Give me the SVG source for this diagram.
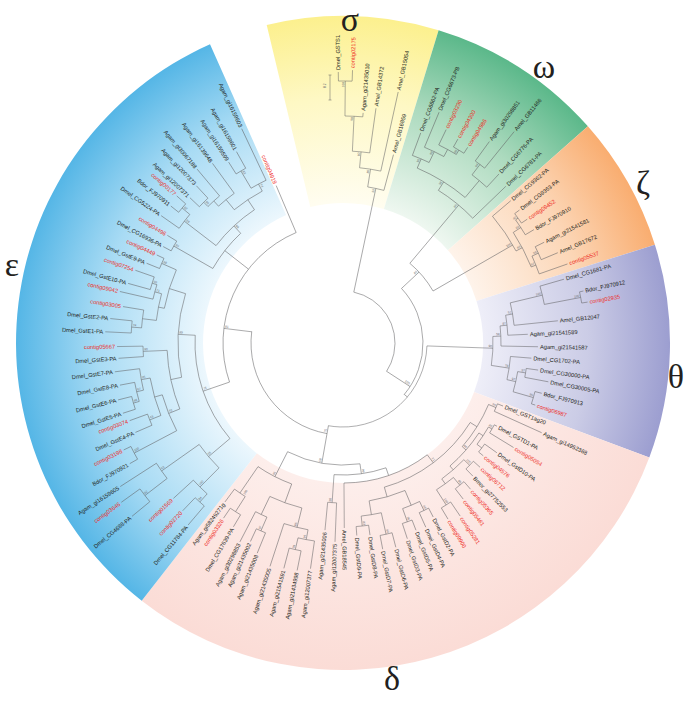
<svg xmlns="http://www.w3.org/2000/svg" width="686" height="701" viewBox="0 0 686 701">
<defs>
<style>
.b{fill:none;stroke:#606062;stroke-width:.5}
.t{font-family:"Liberation Sans",Arial,sans-serif;font-size:5.7px;fill:#231f20}
.r{fill:#ee2a24}
.e{text-anchor:end}
.n{font-family:"Liberation Sans",Arial,sans-serif;font-size:3.2px;fill:#6d6e71}
.gk{font-family:"Liberation Serif","DejaVu Serif",serif;font-size:34px;fill:#231f20;text-anchor:middle}
</style>
<radialGradient id="gS" gradientUnits="userSpaceOnUse" cx="343" cy="343" r="327"><stop offset="0.43" stop-color="#fffdf0"/><stop offset="0.75" stop-color="#fef8c4"/><stop offset="1" stop-color="#fcf08e"/></radialGradient>
<radialGradient id="gW" gradientUnits="userSpaceOnUse" cx="343" cy="343" r="327"><stop offset="0.43" stop-color="#eef7f0"/><stop offset="0.75" stop-color="#acdabe"/><stop offset="1" stop-color="#5bb88a"/></radialGradient>
<radialGradient id="gZ" gradientUnits="userSpaceOnUse" cx="343" cy="343" r="327"><stop offset="0.43" stop-color="#fef3ea"/><stop offset="0.75" stop-color="#fcd6b6"/><stop offset="1" stop-color="#f9ad70"/></radialGradient>
<radialGradient id="gT" gradientUnits="userSpaceOnUse" cx="343" cy="343" r="327"><stop offset="0.43" stop-color="#eeeef8"/><stop offset="0.75" stop-color="#cbcce6"/><stop offset="1" stop-color="#9c9ed0"/></radialGradient>
<radialGradient id="gD" gradientUnits="userSpaceOnUse" cx="343" cy="343" r="327"><stop offset="0.43" stop-color="#fdeeeb"/><stop offset="1" stop-color="#fbdcd6"/></radialGradient>
<radialGradient id="gE" gradientUnits="userSpaceOnUse" cx="343" cy="343" r="327"><stop offset="0.43" stop-color="#ecf7fd"/><stop offset="0.75" stop-color="#a8dbf4"/><stop offset="1" stop-color="#55b6e6"/></radialGradient>
</defs>
<rect width="686" height="701" fill="#ffffff"/>
<g id="sectors">
<path id="sec-sigma" fill="url(#gS)" d="M266.7 25A327 327 0 0 1 438.6 30.3L383.9 209.1A140 140 0 0 0 310.3 206.9Z"/>
<path id="sec-omega" fill="url(#gW)" d="M438.6 30.3A327 327 0 0 1 587.9 126.3L447.9 250.2A140 140 0 0 0 383.9 209.1Z"/>
<path id="sec-zeta" fill="url(#gZ)" d="M587.9 126.3A327 327 0 0 1 654.9 244.7L476.5 300.9A140 140 0 0 0 447.9 250.2Z"/>
<path id="sec-theta" fill="url(#gT)" d="M654.9 244.7A327 327 0 0 1 649.3 457.5L474.1 392A140 140 0 0 0 476.5 300.9Z"/>
<path id="sec-delta" fill="url(#gD)" d="M649.3 457.5A327 327 0 0 1 141.7 600.7L256.8 453.3A140 140 0 0 0 474.1 392Z"/>
<path id="sec-epsilon" fill="url(#gE)" d="M141.7 600.7A327 327 0 0 1 210 44.3L286.1 215.1A140 140 0 0 0 256.8 453.3Z"/>
</g>
<g id="clade-names">
<text id="lab-sigma" class="gk" x="350" y="31">σ</text>
<text id="lab-omega" class="gk" x="544" y="78">ω</text>
<text id="lab-zeta" class="gk" x="643" y="194">ζ</text>
<text id="lab-theta" class="gk" x="676" y="388">θ</text>
<text id="lab-delta" class="gk" x="392" y="690">δ</text>
<text id="lab-epsilon" class="gk" x="12" y="276">ε</text>
</g>
<g id="connectors" class="b" transform="translate(343,343)">
<circle r="52" stroke-dasharray="100.7 3000" transform="rotate(-78)"/>
<circle r="80" stroke-dasharray="115.9 3000" transform="rotate(-43)"/>
<circle r="104" stroke-dasharray="36.3 3000" transform="rotate(-50)"/>
<circle r="84" stroke-dasharray="143.7 3000" transform="rotate(2)"/>
<circle r="92" stroke-dasharray="139.7 3000" transform="rotate(100)"/>
<circle r="120" stroke-dasharray="180.1 3000" transform="rotate(161)"/>
<path d="M52 0H158" transform="rotate(-78)"/>
<path d="M52 0H80" transform="rotate(33)"/>
<path d="M80 0H104" transform="rotate(-43)"/>
<path d="M80 0H84" transform="rotate(40)"/>
<path d="M104 0H180" transform="rotate(-50)"/>
<path d="M104 0H196" transform="rotate(-30)"/>
<path d="M84 0H150" transform="rotate(2)"/>
<path d="M84 0H122" transform="rotate(100)"/>
<path d="M92 0H120" transform="rotate(187)"/>
<path d="M120 0H171" transform="rotate(247)"/>
<path d="M-13 -268V-243M-14.5 -268H-11.5M-14.5 -243H-11.5"/>
<circle r="158" stroke-dasharray="16.5 3000" transform="rotate(-81)"/>
<circle r="176" stroke-dasharray="21.5 3000" transform="rotate(-84.6)"/>
<circle r="192" stroke-dasharray="17.4 3000" transform="rotate(-87.2)"/>
<circle r="227" stroke-dasharray="17.8 3000" transform="rotate(-89.5)"/>
<circle r="262" stroke-dasharray="13.7 3000" transform="rotate(-91)"/>
<path d="M158 0H176" transform="rotate(-81)"/>
<path d="M176 0H192" transform="rotate(-84.6)"/>
<path d="M192 0H227" transform="rotate(-87.2)"/>
<path d="M227 0H262" transform="rotate(-89.5)"/>
<path d="M262 0H271" transform="rotate(-91)"/>
<path d="M262 0H273" transform="rotate(-88)"/>
<path d="M227 0H231" transform="rotate(-85)"/>
<path d="M192 0H237" transform="rotate(-82)"/>
<path d="M176 0H257" transform="rotate(-77.6)"/>
<path d="M158 0H195" transform="rotate(-75)"/>
<circle r="180" stroke-dasharray="44.3 3000" transform="rotate(-58)"/>
<circle r="190" stroke-dasharray="56.4 3000" transform="rotate(-67)"/>
<circle r="200" stroke-dasharray="18.2 3000" transform="rotate(-69.7)"/>
<circle r="212" stroke-dasharray="21.5 3000" transform="rotate(-67.4)"/>
<circle r="220" stroke-dasharray="20 3000" transform="rotate(-64.2)"/>
<circle r="225" stroke-dasharray="12.2 3000" transform="rotate(-60.6)"/>
<circle r="212" stroke-dasharray="19.2 3000" transform="rotate(-52.5)"/>
<circle r="225" stroke-dasharray="11.8 3000" transform="rotate(-54)"/>
<path d="M180 0H190" transform="rotate(-58)"/>
<path d="M190 0H200" transform="rotate(-67)"/>
<path d="M200 0H212" transform="rotate(-64.5)"/>
<path d="M212 0H220" transform="rotate(-61.6)"/>
<path d="M220 0H225" transform="rotate(-59)"/>
<path d="M190 0H212" transform="rotate(-50)"/>
<path d="M212 0H225" transform="rotate(-52.5)"/>
<path d="M200 0H224" transform="rotate(-69.7)"/>
<path d="M212 0H250" transform="rotate(-67.4)"/>
<path d="M220 0H237" transform="rotate(-64.2)"/>
<path d="M225 0H234" transform="rotate(-60.6)"/>
<path d="M225 0H232" transform="rotate(-57.5)"/>
<path d="M225 0H249" transform="rotate(-54)"/>
<path d="M225 0H272" transform="rotate(-51)"/>
<path d="M212 0H230" transform="rotate(-47.3)"/>
<path d="M180 0H226" transform="rotate(-43.9)"/>
<circle r="196" stroke-dasharray="42.1 3000" transform="rotate(-40.3)"/>
<circle r="203" stroke-dasharray="39 3000" transform="rotate(-33)"/>
<circle r="212" stroke-dasharray="17.8 3000" transform="rotate(-35.5)"/>
<circle r="215" stroke-dasharray="11.6 3000" transform="rotate(-37)"/>
<circle r="208" stroke-dasharray="19.2 3000" transform="rotate(-24.7)"/>
<circle r="215" stroke-dasharray="14.3 3000" transform="rotate(-26.6)"/>
<path d="M196 0H203" transform="rotate(-28)"/>
<path d="M203 0H212" transform="rotate(-33)"/>
<path d="M212 0H215" transform="rotate(-35.5)"/>
<path d="M203 0H208" transform="rotate(-22)"/>
<path d="M208 0H215" transform="rotate(-24.7)"/>
<path d="M196 0H220" transform="rotate(-40.3)"/>
<path d="M215 0H221" transform="rotate(-37)"/>
<path d="M215 0H222" transform="rotate(-33.9)"/>
<path d="M212 0H222" transform="rotate(-30.7)"/>
<path d="M215 0H225" transform="rotate(-26.6)"/>
<path d="M215 0H233" transform="rotate(-22.8)"/>
<path d="M208 0H238" transform="rotate(-19.4)"/>
<circle r="150" stroke-dasharray="29.1 3000" transform="rotate(-2.5)"/>
<circle r="158" stroke-dasharray="20.1 3000" transform="rotate(-6.2)"/>
<circle r="165" stroke-dasharray="20.2 3000" transform="rotate(-9.7)"/>
<circle r="172" stroke-dasharray="22.8 3000" transform="rotate(-13.5)"/>
<circle r="205" stroke-dasharray="18.8 3000" transform="rotate(-16.1)"/>
<circle r="242" stroke-dasharray="11.4 3000" transform="rotate(-12.2)"/>
<circle r="168" stroke-dasharray="23.5 3000" transform="rotate(4.6)"/>
<circle r="177" stroke-dasharray="20.7 3000" transform="rotate(9.3)"/>
<circle r="185" stroke-dasharray="9 3000" transform="rotate(7.9)"/>
<circle r="198" stroke-dasharray="12.8 3000" transform="rotate(14.2)"/>
<path d="M150 0H158" transform="rotate(-2.5)"/>
<path d="M158 0H165" transform="rotate(-6.2)"/>
<path d="M165 0H172" transform="rotate(-9.7)"/>
<path d="M172 0H205" transform="rotate(-13.5)"/>
<path d="M205 0H242" transform="rotate(-10.85)"/>
<path d="M150 0H168" transform="rotate(8.6)"/>
<path d="M168 0H177" transform="rotate(12.6)"/>
<path d="M177 0H185" transform="rotate(9.3)"/>
<path d="M177 0H198" transform="rotate(16)"/>
<path d="M205 0H230" transform="rotate(-16.1)"/>
<path d="M242 0H246" transform="rotate(-12.2)"/>
<path d="M242 0H248" transform="rotate(-9.5)"/>
<path d="M172 0H216" transform="rotate(-5.9)"/>
<path d="M165 0H185" transform="rotate(-2.7)"/>
<path d="M158 0H195" transform="rotate(1.1)"/>
<path d="M168 0H189" transform="rotate(4.6)"/>
<path d="M185 0H197" transform="rotate(7.9)"/>
<path d="M185 0H209" transform="rotate(10.7)"/>
<path d="M198 0H205" transform="rotate(14.2)"/>
<path d="M198 0H202" transform="rotate(17.9)"/>
<circle r="122" stroke-dasharray="74.5 3000" transform="rotate(82)"/>
<circle r="132" stroke-dasharray="52.8 3000" transform="rotate(71)"/>
<circle r="160" stroke-dasharray="8.9 3000" transform="rotate(92.3)"/>
<circle r="140" stroke-dasharray="89.4 3000" transform="rotate(53)"/>
<circle r="150" stroke-dasharray="110 3000" transform="rotate(32)"/>
<circle r="158" stroke-dasharray="49.9 3000" transform="rotate(22.9)"/>
<circle r="166" stroke-dasharray="8.1 3000" transform="rotate(21.5)"/>
<circle r="163" stroke-dasharray="44.1 3000" transform="rotate(33.5)"/>
<circle r="168" stroke-dasharray="20.8 3000" transform="rotate(30)"/>
<circle r="172" stroke-dasharray="9.3 3000" transform="rotate(28.4)"/>
<circle r="174" stroke-dasharray="10 3000" transform="rotate(35.5)"/>
<circle r="168" stroke-dasharray="29.3 3000" transform="rotate(44)"/>
<circle r="176" stroke-dasharray="10.8 3000" transform="rotate(42.2)"/>
<circle r="174" stroke-dasharray="21 3000" transform="rotate(50.6)"/>
<circle r="184" stroke-dasharray="11.2 3000" transform="rotate(48.9)"/>
<circle r="192" stroke-dasharray="11.1 3000" transform="rotate(55.9)"/>
<circle r="160" stroke-dasharray="37.4 3000" transform="rotate(67.2)"/>
<circle r="176" stroke-dasharray="18.4 3000" transform="rotate(64.2)"/>
<circle r="186" stroke-dasharray="10.4 3000" transform="rotate(62.6)"/>
<circle r="190" stroke-dasharray="10.3 3000" transform="rotate(68.7)"/>
<circle r="174" stroke-dasharray="20.3 3000" transform="rotate(77.3)"/>
<circle r="196" stroke-dasharray="12.3 3000" transform="rotate(75.5)"/>
<circle r="184" stroke-dasharray="12.5 3000" transform="rotate(82)"/>
<circle r="150" stroke-dasharray="38 3000" transform="rotate(110)"/>
<circle r="170" stroke-dasharray="34.1 3000" transform="rotate(104)"/>
<circle r="190" stroke-dasharray="24.9 3000" transform="rotate(100.6)"/>
<circle r="200" stroke-dasharray="16.8 3000" transform="rotate(98.2)"/>
<circle r="212" stroke-dasharray="12.2 3000" transform="rotate(101.4)"/>
<circle r="190" stroke-dasharray="12.6 3000" transform="rotate(113.6)"/>
<circle r="205" stroke-dasharray="10 3000" transform="rotate(112.2)"/>
<circle r="182" stroke-dasharray="13 3000" transform="rotate(122.5)"/>
<circle r="200" stroke-dasharray="12.2 3000" transform="rotate(120.8)"/>
<path d="M122 0H132" transform="rotate(82)"/>
<path d="M122 0H150" transform="rotate(117)"/>
<path d="M132 0H160" transform="rotate(93.9)"/>
<path d="M132 0H140" transform="rotate(71)"/>
<path d="M140 0H150" transform="rotate(53)"/>
<path d="M150 0H158" transform="rotate(32)"/>
<path d="M150 0H160" transform="rotate(74)"/>
<path d="M158 0H166" transform="rotate(22.9)"/>
<path d="M158 0H163" transform="rotate(41)"/>
<path d="M163 0H168" transform="rotate(33.5)"/>
<path d="M163 0H168" transform="rotate(49)"/>
<path d="M168 0H172" transform="rotate(30)"/>
<path d="M168 0H174" transform="rotate(37.1)"/>
<path d="M168 0H176" transform="rotate(44)"/>
<path d="M168 0H174" transform="rotate(54)"/>
<path d="M174 0H184" transform="rotate(50.6)"/>
<path d="M174 0H192" transform="rotate(57.5)"/>
<path d="M160 0H176" transform="rotate(67.2)"/>
<path d="M160 0H174" transform="rotate(80.6)"/>
<path d="M176 0H186" transform="rotate(64.2)"/>
<path d="M176 0H190" transform="rotate(70.2)"/>
<path d="M174 0H196" transform="rotate(77.3)"/>
<path d="M174 0H184" transform="rotate(84)"/>
<path d="M150 0H170" transform="rotate(110)"/>
<path d="M150 0H182" transform="rotate(124.5)"/>
<path d="M170 0H190" transform="rotate(104)"/>
<path d="M170 0H190" transform="rotate(115.5)"/>
<path d="M190 0H200" transform="rotate(100.6)"/>
<path d="M200 0H212" transform="rotate(103)"/>
<path d="M190 0H205" transform="rotate(113.6)"/>
<path d="M182 0H200" transform="rotate(122.5)"/>
<path d="M166 0H172" transform="rotate(21.5)"/>
<path d="M166 0H218" transform="rotate(24.3)"/>
<path d="M172 0H175" transform="rotate(28.4)"/>
<path d="M172 0H200" transform="rotate(31.5)"/>
<path d="M174 0H189" transform="rotate(35.5)"/>
<path d="M174 0H180" transform="rotate(38.8)"/>
<path d="M176 0H185" transform="rotate(42.2)"/>
<path d="M176 0H186" transform="rotate(45.7)"/>
<path d="M184 0H194" transform="rotate(48.9)"/>
<path d="M184 0H197" transform="rotate(52.4)"/>
<path d="M192 0H209" transform="rotate(55.9)"/>
<path d="M192 0H205" transform="rotate(59.2)"/>
<path d="M186 0H196" transform="rotate(62.6)"/>
<path d="M186 0H202" transform="rotate(65.8)"/>
<path d="M190 0H201" transform="rotate(68.7)"/>
<path d="M190 0H206" transform="rotate(71.8)"/>
<path d="M196 0H211" transform="rotate(75.5)"/>
<path d="M196 0H210" transform="rotate(79.1)"/>
<path d="M184 0H194" transform="rotate(82)"/>
<path d="M184 0H193" transform="rotate(85.9)"/>
<path d="M140 0H185" transform="rotate(89.6)"/>
<path d="M160 0H199" transform="rotate(92.3)"/>
<path d="M160 0H188" transform="rotate(95.5)"/>
<path d="M200 0H228" transform="rotate(98.2)"/>
<path d="M212 0H232" transform="rotate(101.4)"/>
<path d="M212 0H233" transform="rotate(104.7)"/>
<path d="M190 0H235" transform="rotate(108.1)"/>
<path d="M205 0H227" transform="rotate(112.2)"/>
<path d="M205 0H219" transform="rotate(115)"/>
<path d="M190 0H224" transform="rotate(117.4)"/>
<path d="M200 0H214" transform="rotate(120.8)"/>
<path d="M200 0H212" transform="rotate(124.3)"/>
<path d="M182 0H198" transform="rotate(126.6)"/>
<circle r="148" stroke-dasharray="111.6 3000" transform="rotate(139.8)"/>
<circle r="165" stroke-dasharray="84.7 3000" transform="rotate(168)"/>
<circle r="182" stroke-dasharray="40.3 3000" transform="rotate(191)"/>
<circle r="198" stroke-dasharray="11.1 3000" transform="rotate(202.1)"/>
<circle r="188" stroke-dasharray="27.2 3000" transform="rotate(186.9)"/>
<circle r="195" stroke-dasharray="15 3000" transform="rotate(193)"/>
<circle r="200" stroke-dasharray="13.3 3000" transform="rotate(195.5)"/>
<circle r="202" stroke-dasharray="18 3000" transform="rotate(184.3)"/>
<circle r="212" stroke-dasharray="12.2 3000" transform="rotate(182.7)"/>
<circle r="176" stroke-dasharray="60.2 3000" transform="rotate(158)"/>
<circle r="200" stroke-dasharray="10.5 3000" transform="rotate(176.1)"/>
<circle r="188" stroke-dasharray="38.7 3000" transform="rotate(152.2)"/>
<circle r="196" stroke-dasharray="39 3000" transform="rotate(158.3)"/>
<circle r="205" stroke-dasharray="21.8 3000" transform="rotate(166.7)"/>
<circle r="212" stroke-dasharray="19.6 3000" transform="rotate(164)"/>
<circle r="218" stroke-dasharray="13.3 3000" transform="rotate(162.3)"/>
<circle r="208" stroke-dasharray="12 3000" transform="rotate(156.7)"/>
<circle r="236" stroke-dasharray="14.4 3000" transform="rotate(150.5)"/>
<circle r="176" stroke-dasharray="30.7 3000" transform="rotate(134.8)"/>
<circle r="222" stroke-dasharray="18.6 3000" transform="rotate(142.4)"/>
<circle r="250" stroke-dasharray="16.1 3000" transform="rotate(140.6)"/>
<circle r="203" stroke-dasharray="19.5 3000" transform="rotate(132)"/>
<circle r="214" stroke-dasharray="12.3 3000" transform="rotate(130.4)"/>
<circle r="150" stroke-dasharray="45 3000" transform="rotate(209.8)"/>
<circle r="195" stroke-dasharray="11.2 3000" transform="rotate(208.2)"/>
<circle r="160" stroke-dasharray="52.8 3000" transform="rotate(217.5)"/>
<circle r="200" stroke-dasharray="17.5 3000" transform="rotate(215)"/>
<circle r="210" stroke-dasharray="11 3000" transform="rotate(218.5)"/>
<circle r="172" stroke-dasharray="33.6 3000" transform="rotate(230.8)"/>
<circle r="185" stroke-dasharray="20.3 3000" transform="rotate(227.7)"/>
<circle r="192" stroke-dasharray="15.7 3000" transform="rotate(225.3)"/>
<circle r="198" stroke-dasharray="12.1 3000" transform="rotate(223.5)"/>
<circle r="180" stroke-dasharray="17 3000" transform="rotate(239.3)"/>
<circle r="200" stroke-dasharray="11.2 3000" transform="rotate(237.7)"/>
<path d="M120 0H148" transform="rotate(161)"/>
<path d="M120 0H150" transform="rotate(218)"/>
<path d="M148 0H176" transform="rotate(139.8)"/>
<path d="M148 0H165" transform="rotate(183)"/>
<path d="M165 0H176" transform="rotate(168)"/>
<path d="M165 0H182" transform="rotate(197.4)"/>
<path d="M182 0H188" transform="rotate(191)"/>
<path d="M182 0H198" transform="rotate(203.7)"/>
<path d="M188 0H202" transform="rotate(186.9)"/>
<path d="M188 0H195" transform="rotate(195.2)"/>
<path d="M195 0H200" transform="rotate(197.4)"/>
<path d="M202 0H212" transform="rotate(184.3)"/>
<path d="M176 0H200" transform="rotate(177.6)"/>
<path d="M176 0H188" transform="rotate(158)"/>
<path d="M188 0H236" transform="rotate(152.2)"/>
<path d="M188 0H196" transform="rotate(164)"/>
<path d="M196 0H208" transform="rotate(158.3)"/>
<path d="M196 0H205" transform="rotate(169.7)"/>
<path d="M205 0H212" transform="rotate(166.7)"/>
<path d="M212 0H218" transform="rotate(164)"/>
<path d="M176 0H203" transform="rotate(134.8)"/>
<path d="M176 0H222" transform="rotate(144.8)"/>
<path d="M222 0H250" transform="rotate(142.4)"/>
<path d="M203 0H214" transform="rotate(132)"/>
<path d="M150 0H195" transform="rotate(209.8)"/>
<path d="M150 0H160" transform="rotate(227)"/>
<path d="M160 0H200" transform="rotate(217.5)"/>
<path d="M160 0H172" transform="rotate(236.4)"/>
<path d="M200 0H210" transform="rotate(220)"/>
<path d="M172 0H185" transform="rotate(230.8)"/>
<path d="M172 0H180" transform="rotate(242)"/>
<path d="M185 0H192" transform="rotate(227.7)"/>
<path d="M192 0H198" transform="rotate(225.3)"/>
<path d="M180 0H200" transform="rotate(239.3)"/>
<path d="M180 0H237" transform="rotate(244.7)"/>
<path d="M200 0H219" transform="rotate(240.9)"/>
<path d="M200 0H214" transform="rotate(237.7)"/>
<path d="M185 0H222" transform="rotate(234)"/>
<path d="M192 0H227" transform="rotate(230)"/>
<path d="M198 0H215" transform="rotate(227)"/>
<path d="M198 0H211" transform="rotate(223.5)"/>
<path d="M210 0H222" transform="rotate(221.5)"/>
<path d="M210 0H220" transform="rotate(218.5)"/>
<path d="M200 0H222" transform="rotate(215)"/>
<path d="M195 0H206" transform="rotate(211.5)"/>
<path d="M195 0H204" transform="rotate(208.2)"/>
<path d="M198 0H206" transform="rotate(205.3)"/>
<path d="M198 0H212" transform="rotate(202.1)"/>
<path d="M200 0H220" transform="rotate(199.3)"/>
<path d="M200 0H223" transform="rotate(195.5)"/>
<path d="M195 0H229" transform="rotate(193)"/>
<path d="M202 0H223" transform="rotate(189.4)"/>
<path d="M212 0H234" transform="rotate(186)"/>
<path d="M212 0H238" transform="rotate(182.7)"/>
<path d="M200 0H226" transform="rotate(179.1)"/>
<path d="M200 0H225" transform="rotate(176.1)"/>
<path d="M205 0H230" transform="rotate(172.8)"/>
<path d="M212 0H227" transform="rotate(169.3)"/>
<path d="M218 0H232" transform="rotate(165.8)"/>
<path d="M218 0H231" transform="rotate(162.3)"/>
<path d="M208 0H227" transform="rotate(160)"/>
<path d="M208 0H226" transform="rotate(156.7)"/>
<path d="M236 0H244" transform="rotate(154)"/>
<path d="M236 0H245" transform="rotate(150.5)"/>
<path d="M222 0H265" transform="rotate(147.2)"/>
<path d="M250 0H273" transform="rotate(144.3)"/>
<path d="M250 0H273" transform="rotate(140.6)"/>
<path d="M203 0H230" transform="rotate(137.5)"/>
<path d="M214 0H232" transform="rotate(133.7)"/>
<path d="M214 0H239" transform="rotate(130.4)"/>
</g>
<g id="support" transform="translate(343,343)">
<text class="n" x="-17" y="-255" transform="rotate(-90 -17 -255)">0.2</text>
<text class="n e" x="78" y="-1" transform="rotate(33)">100</text>
<text class="n e" x="103" y="-1" transform="rotate(-43)">80</text>
<text class="n" x="-91" y="-1" transform="rotate(-80)">75</text>
<text class="n" x="-119" y="-1" transform="rotate(7)">81</text>
<text class="n e" x="149" y="-1" transform="rotate(2)">90</text>
<text class="n e" x="195" y="-1" transform="rotate(-30)">100</text>
<text class="n e" x="179" y="-1" transform="rotate(-50)">95</text>
<text class="n e" x="157" y="-1" transform="rotate(-78)">50</text>
<text class="n e" x="175" y="-1" transform="rotate(-81)">80</text>
<text class="n e" x="191" y="-1" transform="rotate(-84.6)">80</text>
<text class="n e" x="226" y="-1" transform="rotate(-87.2)">98</text>
<text class="n e" x="261" y="-1" transform="rotate(-89.5)">100</text>
<text class="n e" x="189" y="-1" transform="rotate(-58)">58</text>
<text class="n e" x="199" y="-1" transform="rotate(-67)">95</text>
<text class="n e" x="211" y="-1" transform="rotate(-64.5)">99</text>
<text class="n e" x="224" y="-1" transform="rotate(-59)">96</text>
<text class="n e" x="224" y="-1" transform="rotate(-52.5)">94</text>
<text class="n e" x="214" y="-1" transform="rotate(-35.5)">40</text>
<text class="n e" x="211" y="-1" transform="rotate(-33)">93</text>
<text class="n e" x="214" y="-1" transform="rotate(-24.7)">50</text>
<text class="n e" x="207" y="-1" transform="rotate(-22)">57</text>
<text class="n e" x="202" y="-1" transform="rotate(-28)">84</text>
<text class="n e" x="204" y="-1" transform="rotate(-13.5)">100</text>
<text class="n e" x="241" y="-1" transform="rotate(-10.85)">100</text>
<text class="n e" x="171" y="-1" transform="rotate(-9.7)">52</text>
<text class="n e" x="164" y="-1" transform="rotate(-6.2)">87</text>
<text class="n e" x="157" y="-1" transform="rotate(-2.5)">58</text>
<text class="n e" x="167" y="-1" transform="rotate(8.6)">78</text>
<text class="n e" x="176" y="-1" transform="rotate(12.6)">97</text>
<text class="n e" x="184" y="-1" transform="rotate(9.3)">97</text>
<text class="n e" x="197" y="-1" transform="rotate(16)">96</text>
<text class="n e" x="165" y="-1" transform="rotate(22.9)">94</text>
<text class="n e" x="171" y="-1" transform="rotate(30)">86</text>
<text class="n e" x="162" y="-1" transform="rotate(41)">44</text>
<text class="n e" x="175" y="-1" transform="rotate(44)">100</text>
<text class="n e" x="183" y="-1" transform="rotate(50.6)">85</text>
<text class="n e" x="191" y="-1" transform="rotate(57.5)">100</text>
<text class="n e" x="149" y="-1" transform="rotate(53)">71</text>
<text class="n e" x="185" y="-1" transform="rotate(64.2)">86</text>
<text class="n e" x="189" y="-1" transform="rotate(70.2)">95</text>
<text class="n e" x="195" y="-1" transform="rotate(77.3)">99</text>
<text class="n e" x="183" y="-1" transform="rotate(84)">83</text>
<text class="n e" x="131" y="-1" transform="rotate(82)">99</text>
<text class="n" x="-159" y="-1" transform="rotate(-86.1)">88</text>
<text class="n" x="-121" y="-1" transform="rotate(-80)">58</text>
<text class="n" x="-149" y="-1" transform="rotate(-63)">95</text>
<text class="n" x="-199" y="-1" transform="rotate(-79.4)">99</text>
<text class="n" x="-211" y="-1" transform="rotate(-77)">94</text>
<text class="n" x="-189" y="-1" transform="rotate(-76)">86</text>
<text class="n" x="-204" y="-1" transform="rotate(-66.4)">97</text>
<text class="n" x="-181" y="-1" transform="rotate(-57.5)">100</text>
<text class="n" x="-147" y="-1" transform="rotate(-19)">75</text>
<text class="n" x="-235" y="-1" transform="rotate(-27.8)">100</text>
<text class="n" x="-249" y="-1" transform="rotate(-37.6)">92</text>
<text class="n" x="-221" y="-1" transform="rotate(-35.2)">63</text>
<text class="n" x="-202" y="-1" transform="rotate(-45.2)">100</text>
<text class="n" x="-213" y="-1" transform="rotate(-48)">94</text>
<text class="n" x="-175" y="-1" transform="rotate(-40.2)">56</text>
<text class="n" x="-217" y="-1" transform="rotate(-16)">88</text>
<text class="n" x="-211" y="-1" transform="rotate(-13.3)">67</text>
<text class="n" x="-204" y="-1" transform="rotate(-10.3)">95</text>
<text class="n" x="-207" y="-1" transform="rotate(-21.7)">43</text>
<text class="n" x="-187" y="-1" transform="rotate(-22)">42</text>
<text class="n" x="-199" y="-1" transform="rotate(-2.4)">90</text>
<text class="n" x="-211" y="-1" transform="rotate(4.3)">74</text>
<text class="n" x="-199" y="-1" transform="rotate(17.4)">60</text>
<text class="n" x="-194" y="-1" transform="rotate(15.2)">71</text>
<text class="n" x="-197" y="-1" transform="rotate(23.7)">98</text>
<text class="n" x="-164" y="-1" transform="rotate(3)">89</text>
<text class="n" x="-194" y="-1" transform="rotate(29.8)">94</text>
<text class="n" x="-209" y="-1" transform="rotate(40)">92</text>
<text class="n" x="-199" y="-1" transform="rotate(37.5)">98</text>
<text class="n" x="-197" y="-1" transform="rotate(45.3)">99</text>
<text class="n" x="-179" y="-1" transform="rotate(62)">74</text>
<text class="n" x="-199" y="-1" transform="rotate(59.3)">83</text>
<text class="n" x="-159" y="-1" transform="rotate(47)">88</text>
</g>
<g id="leaves" class="t" transform="translate(343,343)">
<g id="n-Dmel_GSTS1"><text x="273" y="2" transform="rotate(-91)">Dmel_GSTS1</text></g>
<g id="n-contig02175"><text class="r" x="275" y="2" transform="rotate(-88)">contig02175</text></g>
<g id="n-Agam_gi21435010"><text x="233" y="2" transform="rotate(-85)">Agam_gi21435010</text></g>
<g id="n-Amel_GB14372"><text x="239" y="2" transform="rotate(-82)">Amel_GB14372</text></g>
<g id="n-Amel_GB15054"><text x="259" y="2" transform="rotate(-77.6)">Amel_GB15054</text></g>
<g id="n-Amel_GB16859"><text x="197" y="2" transform="rotate(-75)">Amel_GB16859</text></g>
<g id="n-Dmel_CG6662-PA"><text x="226" y="2" transform="rotate(-69.7)">Dmel_CG6662-PA</text></g>
<g id="n-Dmel_CG6673-PB"><text x="252" y="2" transform="rotate(-67.4)">Dmel_CG6673-PB</text></g>
<g id="n-contig03230"><text class="r" x="239" y="2" transform="rotate(-64.2)">contig03230</text></g>
<g id="n-contig04300"><text class="r" x="236" y="2" transform="rotate(-60.6)">contig04300</text></g>
<g id="n-contig04986"><text class="r" x="234" y="2" transform="rotate(-57.5)">contig04986</text></g>
<g id="n-Agam_gi30298851"><text x="251" y="2" transform="rotate(-54)">Agam_gi30298851</text></g>
<g id="n-Amel_GB11466"><text x="274" y="2" transform="rotate(-51)">Amel_GB11466</text></g>
<g id="n-Dmel_CG6776-PA"><text x="232" y="2" transform="rotate(-47.3)">Dmel_CG6776-PA</text></g>
<g id="n-Dmel_CG6781-PA"><text x="228" y="2" transform="rotate(-43.9)">Dmel_CG6781-PA</text></g>
<g id="n-Dmel_CG9362-PA"><text x="222" y="2" transform="rotate(-40.3)">Dmel_CG9362-PA</text></g>
<g id="n-Dmel_CG9363-PA"><text x="223" y="2" transform="rotate(-37)">Dmel_CG9363-PA</text></g>
<g id="n-contig09452"><text class="r" x="224" y="2" transform="rotate(-33.9)">contig09452</text></g>
<g id="n-Bdor_FJ970910"><text x="224" y="2" transform="rotate(-30.7)">Bdor_FJ970910</text></g>
<g id="n-Agam_gi21541581"><text x="227" y="2" transform="rotate(-26.6)">Agam_gi21541581</text></g>
<g id="n-Amel_GB17672"><text x="235" y="2" transform="rotate(-22.8)">Amel_GB17672</text></g>
<g id="n-contig05537"><text class="r" x="240" y="2" transform="rotate(-19.4)">contig05537</text></g>
<g id="n-Dmel_CG1681-PA"><text x="232" y="2" transform="rotate(-16.1)">Dmel_CG1681-PA</text></g>
<g id="n-Bdor_FJ970912"><text x="248" y="2" transform="rotate(-12.2)">Bdor_FJ970912</text></g>
<g id="n-contig02935"><text class="r" x="250" y="2" transform="rotate(-9.5)">contig02935</text></g>
<g id="n-Amel_GB12047"><text x="218" y="2" transform="rotate(-5.9)">Amel_GB12047</text></g>
<g id="n-Agam_gi21541589"><text x="187" y="2" transform="rotate(-2.7)">Agam_gi21541589</text></g>
<g id="n-Agam_gi21541587"><text x="197" y="2" transform="rotate(1.1)">Agam_gi21541587</text></g>
<g id="n-Dmel_CG1702-PA"><text x="191" y="2" transform="rotate(4.6)">Dmel_CG1702-PA</text></g>
<g id="n-Dmel_CG30000-PA"><text x="199" y="2" transform="rotate(7.9)">Dmel_CG30000-PA</text></g>
<g id="n-Dmel_CG30005-PA"><text x="211" y="2" transform="rotate(10.7)">Dmel_CG30005-PA</text></g>
<g id="n-Bdor_FJ970913"><text x="207" y="2" transform="rotate(14.2)">Bdor_FJ970913</text></g>
<g id="n-contig06987"><text class="r" x="204" y="2" transform="rotate(17.9)">contig06987</text></g>
<g id="n-Dmel_GST1ag20"><text x="174" y="2" transform="rotate(21.5)">Dmel_GST1ag20</text></g>
<g id="n-Agam_gi14952368"><text x="220" y="2" transform="rotate(24.3)">Agam_gi14952368</text></g>
<g id="n-Dmel_GSTD1-PA"><text x="177" y="2" transform="rotate(28.4)">Dmel_GSTD1-PA</text></g>
<g id="n-contig05054"><text class="r" x="202" y="2" transform="rotate(31.5)">contig05054</text></g>
<g id="n-Dmel_GstD10-PA"><text x="191" y="2" transform="rotate(35.5)">Dmel_GstD10-PA</text></g>
<g id="n-contig04576"><text class="r" x="182" y="2" transform="rotate(38.8)">contig04576</text></g>
<g id="n-contig06712"><text class="r" x="187" y="2" transform="rotate(42.2)">contig06712</text></g>
<g id="n-Bmor_gi27752553"><text x="188" y="2" transform="rotate(45.7)">Bmor_gi27752553</text></g>
<g id="n-contig05365"><text class="r" x="196" y="2" transform="rotate(48.9)">contig05365</text></g>
<g id="n-contig05461"><text class="r" x="199" y="2" transform="rotate(52.4)">contig05461</text></g>
<g id="n-contig05281"><text class="r" x="211" y="2" transform="rotate(55.9)">contig05281</text></g>
<g id="n-contig09900"><text class="r" x="207" y="2" transform="rotate(59.2)">contig09900</text></g>
<g id="n-Dmel_GstD2-PA"><text x="198" y="2" transform="rotate(62.6)">Dmel_GstD2-PA</text></g>
<g id="n-Dmel_GstD4-PA"><text x="204" y="2" transform="rotate(65.8)">Dmel_GstD4-PA</text></g>
<g id="n-Dmel_GstD5-PA"><text x="203" y="2" transform="rotate(68.7)">Dmel_GstD5-PA</text></g>
<g id="n-Dmel_GstD3-PA"><text x="208" y="2" transform="rotate(71.8)">Dmel_GstD3-PA</text></g>
<g id="n-Dmel_GstD6-PA"><text x="213" y="2" transform="rotate(75.5)">Dmel_GstD6-PA</text></g>
<g id="n-Dmel_GstD7-PA"><text x="212" y="2" transform="rotate(79.1)">Dmel_GstD7-PA</text></g>
<g id="n-Dmel_GstD8-PA"><text x="196" y="2" transform="rotate(82)">Dmel_GstD8-PA</text></g>
<g id="n-Dmel_GstD9-PA"><text x="195" y="2" transform="rotate(85.9)">Dmel_GstD9-PA</text></g>
<g id="n-Amel_GB18545"><text x="187" y="2" transform="rotate(89.6)">Amel_GB18545</text></g>
<g id="n-Agam_gi12007375"><text class="e" x="-201" y="2" transform="rotate(-87.7)">Agam_gi12007375</text></g>
<g id="n-Agam_gi21435006"><text class="e" x="-190" y="2" transform="rotate(-84.5)">Agam_gi21435006</text></g>
<g id="n-Agam_gi12007377"><text class="e" x="-230" y="2" transform="rotate(-81.8)">Agam_gi12007377</text></g>
<g id="n-Agam_gi21434998"><text class="e" x="-234" y="2" transform="rotate(-78.6)">Agam_gi21434998</text></g>
<g id="n-Agam_gi21541591"><text class="e" x="-235" y="2" transform="rotate(-75.3)">Agam_gi21541591</text></g>
<g id="n-Agam_gi21435005"><text class="e" x="-237" y="2" transform="rotate(-71.9)">Agam_gi21435005</text></g>
<g id="n-Agam_gi21435008"><text class="e" x="-229" y="2" transform="rotate(-67.8)">Agam_gi21435008</text></g>
<g id="n-Agam_gi21435002"><text class="e" x="-221" y="2" transform="rotate(-65)">Agam_gi21435002</text></g>
<g id="n-Agam_gi30298853"><text class="e" x="-226" y="2" transform="rotate(-62.6)">Agam_gi30298853</text></g>
<g id="n-Dmel_CG17639-PA"><text class="e" x="-216" y="2" transform="rotate(-59.2)">Dmel_CG17639-PA</text></g>
<g id="n-contig03326"><text class="e r" x="-214" y="2" transform="rotate(-55.7)">contig03326</text></g>
<g id="n-Agam_gi58249271g"><text class="e" x="-200" y="2" transform="rotate(-53.4)">Agam_gi58249271g</text></g>
<g id="n-Dmel_CG11784-PA"><text class="e" x="-241" y="2" transform="rotate(-49.6)">Dmel_CG11784-PA</text></g>
<g id="n-contig03720"><text class="e r" x="-234" y="2" transform="rotate(-46.3)">contig03720</text></g>
<g id="n-contig01569"><text class="e r" x="-232" y="2" transform="rotate(-42.5)">contig01569</text></g>
<g id="n-Dmel_CG4688-PA"><text class="e" x="-275" y="2" transform="rotate(-39.4)">Dmel_CG4688-PA</text></g>
<g id="n-contig03646"><text class="e r" x="-275" y="2" transform="rotate(-35.7)">contig03646</text></g>
<g id="n-Agam_gi16159605"><text class="e" x="-267" y="2" transform="rotate(-32.8)">Agam_gi16159605</text></g>
<g id="n-Bdor_FJ970921"><text class="e" x="-247" y="2" transform="rotate(-29.5)">Bdor_FJ970921</text></g>
<g id="n-contig03198"><text class="e r" x="-246" y="2" transform="rotate(-26)">contig03198</text></g>
<g id="n-Dmel_GstE4-PA"><text class="e" x="-228" y="2" transform="rotate(-23.3)">Dmel_GstE4-PA</text></g>
<g id="n-contig03074"><text class="e r" x="-229" y="2" transform="rotate(-20)">contig03074</text></g>
<g id="n-Dmel_GstE5-PA"><text class="e" x="-233" y="2" transform="rotate(-17.7)">Dmel_GstE5-PA</text></g>
<g id="n-Dmel_GstE6-PA"><text class="e" x="-234" y="2" transform="rotate(-14.2)">Dmel_GstE6-PA</text></g>
<g id="n-Dmel_GstE8-PA"><text class="e" x="-229" y="2" transform="rotate(-10.7)">Dmel_GstE8-PA</text></g>
<g id="n-Dmel_GstE7-PA"><text class="e" x="-232" y="2" transform="rotate(-7.2)">Dmel_GstE7-PA</text></g>
<g id="n-Dmel_GstE3-PA"><text class="e" x="-227" y="2" transform="rotate(-3.9)">Dmel_GstE3-PA</text></g>
<g id="n-contig05667"><text class="e r" x="-228" y="2" transform="rotate(-0.9)">contig05667</text></g>
<g id="n-Dmel_GstE1-PA"><text class="e" x="-240" y="2" transform="rotate(2.7)">Dmel_GstE1-PA</text></g>
<g id="n-Dmel_GstE2-PA"><text class="e" x="-236" y="2" transform="rotate(6)">Dmel_GstE2-PA</text></g>
<g id="n-contig03005"><text class="e r" x="-225" y="2" transform="rotate(9.4)">contig03005</text></g>
<g id="n-contig09042"><text class="e r" x="-231" y="2" transform="rotate(13)">contig09042</text></g>
<g id="n-Dmel_GstE10-PA"><text class="e" x="-225" y="2" transform="rotate(15.5)">Dmel_GstE10-PA</text></g>
<g id="n-contig07254"><text class="e r" x="-222" y="2" transform="rotate(19.3)">contig07254</text></g>
<g id="n-Dmel_GstE9-PA"><text class="e" x="-214" y="2" transform="rotate(22.1)">Dmel_GstE9-PA</text></g>
<g id="n-contig04449"><text class="e r" x="-208" y="2" transform="rotate(25.3)">contig04449</text></g>
<g id="n-Dmel_CG16936-PA"><text class="e" x="-206" y="2" transform="rotate(28.2)">Dmel_CG16936-PA</text></g>
<g id="n-contig04496"><text class="e r" x="-208" y="2" transform="rotate(31.5)">contig04496</text></g>
<g id="n-Dmel_CG5224-PA"><text class="e" x="-224" y="2" transform="rotate(35)">Dmel_CG5224-PA</text></g>
<g id="n-Bdor_FJ970911"><text class="e" x="-222" y="2" transform="rotate(38.5)">Bdor_FJ970911</text></g>
<g id="n-contig00177"><text class="e r" x="-224" y="2" transform="rotate(41.5)">contig00177</text></g>
<g id="n-Agam_gi12007371"><text class="e" x="-213" y="2" transform="rotate(43.5)">Agam_gi12007371</text></g>
<g id="n-Agam_gi12007373"><text class="e" x="-217" y="2" transform="rotate(47)">Agam_gi12007373</text></g>
<g id="n-Agam_gi30067188"><text class="e" x="-229" y="2" transform="rotate(50)">Agam_gi30067188</text></g>
<g id="n-Agam_gi16139648"><text class="e" x="-224" y="2" transform="rotate(54)">Agam_gi16139648</text></g>
<g id="n-Agam_gi16159599"><text class="e" x="-216" y="2" transform="rotate(57.7)">Agam_gi16159599</text></g>
<g id="n-Agam_gi16159601"><text class="e" x="-221" y="2" transform="rotate(60.9)">Agam_gi16159601</text></g>
<g id="n-Agam_gi16159603"><text class="e" x="-239" y="2" transform="rotate(64.7)">Agam_gi16159603</text></g>
<g id="n-contig04919"><text class="e r" x="-173" y="2" transform="rotate(67)">contig04919</text></g>
</g>
</svg>
